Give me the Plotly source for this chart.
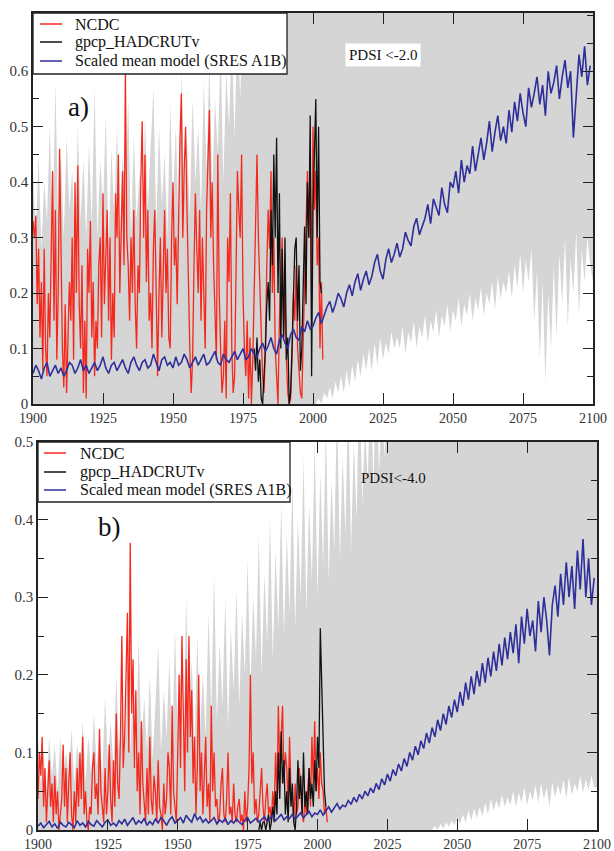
import plotly.graph_objects as go

# ---------------- data: panel a (PDSI < -2.0) ----------------
model_start = 1900  # annual values
model_a = [
    0.055, 0.07, 0.06, 0.045, 0.065, 0.075, 0.05, 0.06, 0.07, 0.055,
    0.065, 0.05, 0.06, 0.075, 0.07, 0.055, 0.065, 0.08, 0.06, 0.07,
    0.055, 0.065, 0.075, 0.06, 0.07, 0.085, 0.065, 0.055, 0.07, 0.075,
    0.06, 0.07, 0.08, 0.065, 0.055, 0.075, 0.085, 0.07, 0.06, 0.075,
    0.08, 0.065, 0.07, 0.09, 0.075, 0.06, 0.08, 0.085, 0.07, 0.075,
    0.065, 0.085, 0.07, 0.075, 0.09, 0.08, 0.065, 0.075, 0.085, 0.07,
    0.08, 0.09, 0.07, 0.075, 0.085, 0.095, 0.075, 0.07, 0.09, 0.08,
    0.075, 0.085, 0.095, 0.08, 0.09, 0.1, 0.08, 0.085, 0.1, 0.09,
    0.085, 0.1, 0.11, 0.095, 0.105, 0.12, 0.1, 0.09, 0.115, 0.125,
    0.11, 0.1, 0.125, 0.135, 0.12, 0.115, 0.14, 0.13, 0.15, 0.135,
    0.14, 0.155, 0.165, 0.145, 0.16, 0.175, 0.185, 0.165, 0.18, 0.2,
    0.19, 0.175, 0.2, 0.215, 0.195, 0.22, 0.235, 0.205, 0.225, 0.24,
    0.215, 0.23, 0.255, 0.27, 0.24, 0.225, 0.26, 0.28, 0.255, 0.27,
    0.29, 0.265, 0.28, 0.31, 0.295, 0.285, 0.32, 0.335, 0.305, 0.32,
    0.335, 0.36, 0.325, 0.37, 0.355, 0.34, 0.39, 0.36, 0.345, 0.4,
    0.39, 0.42, 0.38, 0.44, 0.4, 0.43, 0.415, 0.465, 0.42, 0.45,
    0.48, 0.44, 0.47, 0.51, 0.455, 0.49, 0.52, 0.475, 0.5, 0.47,
    0.53, 0.49, 0.545, 0.51, 0.56, 0.525, 0.5, 0.57, 0.535, 0.56,
    0.59, 0.54, 0.575, 0.52, 0.6, 0.56, 0.58, 0.61, 0.55, 0.59,
    0.62, 0.57, 0.6, 0.48, 0.55, 0.63, 0.59, 0.645, 0.575, 0.61,
]

ncdc_start = 1900.0  # half-year values
ncdc_a = [
    0.33, 0.30, 0.34, 0.18, 0.28, 0.12, 0.22, 0.06, 0.28, 0.10,
    0.05, 0.20, 0.12, 0.30, 0.42, 0.15, 0.35, 0.08, 0.20, 0.46,
    0.25, 0.10, 0.03, 0.18, 0.02, 0.12, 0.22, 0.15, 0.30, 0.08,
    0.40, 0.20, 0.43, 0.18, 0.10, 0.25, 0.02, 0.15, 0.01, 0.28,
    0.20, 0.33, 0.12, 0.22, 0.05, 0.15, 0.10, 0.25, 0.30, 0.12,
    0.38, 0.18, 0.25, 0.35, 0.15, 0.30, 0.08, 0.20, 0.12, 0.38,
    0.30, 0.45, 0.20, 0.35, 0.42, 0.25, 0.60, 0.30, 0.25, 0.15,
    0.30, 0.20, 0.35, 0.18, 0.10, 0.25, 0.20, 0.40, 0.51, 0.30,
    0.45, 0.22, 0.35, 0.15, 0.20, 0.10, 0.28, 0.35, 0.15, 0.05,
    0.20, 0.30, 0.12, 0.25, 0.35, 0.20, 0.28, 0.12, 0.10, 0.30,
    0.40, 0.25, 0.30, 0.18, 0.38, 0.48, 0.56, 0.30, 0.42, 0.50,
    0.35, 0.20, 0.10, 0.02, 0.08, 0.25, 0.38, 0.28, 0.20, 0.35,
    0.15, 0.30, 0.22, 0.10, 0.35, 0.45, 0.53, 0.30, 0.40, 0.25,
    0.15, 0.08, 0.45, 0.20, 0.10, 0.02, 0.05, 0.15, 0.01, 0.30,
    0.22, 0.38, 0.10, 0.02, 0.05, 0.30, 0.42, 0.35, 0.30, 0.45,
    0.20, 0.10, 0.05, 0.15, 0.01, 0.12, 0.00, 0.08, 0.20, 0.35,
    0.45, 0.30, 0.20, 0.10, 0.05, 0.02, 0.10, 0.25, 0.35, 0.28,
    0.42, 0.20, 0.30, 0.10, 0.05, 0.00, 0.15, 0.25, 0.30, 0.12,
    0.20, 0.08, 0.02, 0.00, 0.01, 0.08, 0.20, 0.15, 0.25, 0.10,
    0.05, 0.02, 0.01, 0.12, 0.25, 0.35, 0.42, 0.30, 0.45, 0.20,
    0.50, 0.35, 0.42, 0.25, 0.30, 0.10, 0.22, 0.08,
]

gpcp_start = 1979.0  # half-year values
gpcp_a = [
    0.10, 0.06, 0.12, 0.04, 0.08, 0.01, 0.00, 0.04, 0.10, 0.18,
    0.22, 0.15, 0.35, 0.25, 0.45, 0.30, 0.48, 0.20, 0.38, 0.10,
    0.28, 0.12, 0.30, 0.08, 0.12, 0.00, 0.02, 0.10, 0.22, 0.28,
    0.30, 0.15, 0.25, 0.06, 0.10, 0.20, 0.32, 0.18, 0.40, 0.30,
    0.52, 0.05, 0.35, 0.45, 0.55, 0.30, 0.50, 0.22, 0.20,
]

# model-ensemble spread (grey): upper edge and lower edge
gray_a_top_years = list(range(1900, 1981)) + [2100]
gray_a_top = [
    0.42, 0.3, 0.45, 0.28, 0.4, 0.33, 0.5, 0.3, 0.58, 0.32,
    0.45, 0.3, 0.48, 0.35, 0.42, 0.28, 0.5, 0.33, 0.44, 0.3,
    0.47, 0.32, 0.57, 0.3, 0.44, 0.35, 0.52, 0.28, 0.46, 0.34,
    0.5, 0.3, 0.45, 0.36, 0.55, 0.3, 0.48, 0.33, 0.42, 0.3,
    0.52, 0.35, 0.46, 0.57, 0.32, 0.5, 0.36, 0.45, 0.3, 0.54,
    0.36, 0.5, 0.32, 0.6, 0.38, 0.48, 0.34, 0.55, 0.4, 0.5,
    0.35, 0.58, 0.42, 0.62, 0.38, 0.55, 0.45, 0.64, 0.4, 0.6,
    0.5, 0.66, 0.48, 0.7, 0.55, 0.72, 0.6, 0.75, 0.65, 0.8,
    0.8, 0.8,
]
gray_a_low_years = [1900] + list(range(2000, 2101))
gray_a_low = [
    0.0,
    0.0, 0.0, 0.01, 0.0, 0.02, 0.01, 0.03, 0.01, 0.04, 0.02,
    0.05, 0.02, 0.06, 0.03, 0.07, 0.04, 0.08, 0.05, 0.09, 0.06,
    0.1, 0.06, 0.11, 0.07, 0.12, 0.08, 0.11, 0.09, 0.13, 0.1,
    0.12, 0.1, 0.14, 0.09, 0.13, 0.11, 0.15, 0.1, 0.14, 0.12,
    0.16, 0.11, 0.15, 0.13, 0.17, 0.12, 0.16, 0.14, 0.18, 0.13,
    0.17, 0.15, 0.19, 0.14, 0.18, 0.16, 0.2, 0.15, 0.19, 0.17,
    0.21, 0.16, 0.2, 0.18, 0.22, 0.17, 0.23, 0.19, 0.22, 0.2,
    0.24, 0.19, 0.25, 0.21, 0.27, 0.2, 0.26, 0.22, 0.28, 0.15,
    0.24, 0.08, 0.22, 0.04, 0.2, 0.1, 0.25, 0.12, 0.27, 0.18,
    0.3, 0.14, 0.26, 0.2, 0.31, 0.16, 0.28, 0.22, 0.3, 0.25,
    0.22,
]

# ---------------- data: panel b (PDSI < -4.0) ----------------
model_b = [
    0.005, 0.009, 0.003, 0.007, 0.011, 0.004, 0.008, 0.002, 0.01, 0.006,
    0.004, 0.01, 0.007, 0.003, 0.012, 0.006, 0.009, 0.004, 0.011, 0.007,
    0.005, 0.012, 0.008, 0.004, 0.01, 0.013, 0.006, 0.009, 0.005, 0.012,
    0.008, 0.014, 0.006, 0.011, 0.016, 0.007, 0.012, 0.009, 0.015, 0.006,
    0.011, 0.007, 0.014, 0.009, 0.016, 0.012, 0.006, 0.013, 0.017, 0.009,
    0.012, 0.016, 0.009, 0.019, 0.014, 0.01, 0.021, 0.013, 0.017, 0.01,
    0.014, 0.009, 0.012, 0.016, 0.008, 0.013, 0.01, 0.015, 0.007, 0.012,
    0.009, 0.014, 0.01, 0.007, 0.013, 0.016, 0.009, 0.012, 0.015, 0.01,
    0.013, 0.017, 0.011, 0.015, 0.019, 0.012, 0.016, 0.02, 0.013, 0.017,
    0.015, 0.02, 0.014, 0.018, 0.022, 0.016, 0.02, 0.024, 0.017, 0.022,
    0.02, 0.026, 0.019, 0.025, 0.03, 0.023, 0.028, 0.034, 0.027, 0.032,
    0.03, 0.038, 0.033, 0.042, 0.036, 0.046, 0.04, 0.05, 0.044, 0.054,
    0.048, 0.06, 0.052, 0.066, 0.058, 0.072, 0.063, 0.078, 0.07, 0.085,
    0.076, 0.092, 0.082, 0.1, 0.09, 0.108, 0.097, 0.115, 0.105, 0.125,
    0.112, 0.132, 0.12, 0.142, 0.128, 0.15, 0.136, 0.16, 0.145, 0.168,
    0.152, 0.178, 0.16, 0.19, 0.168, 0.198, 0.175, 0.205, 0.185, 0.215,
    0.19, 0.222, 0.198, 0.23, 0.205, 0.24, 0.212, 0.248, 0.22, 0.255,
    0.228, 0.265, 0.215, 0.275, 0.24, 0.285, 0.25, 0.27, 0.23, 0.295,
    0.255, 0.3, 0.27, 0.225, 0.29, 0.315, 0.275, 0.33, 0.29, 0.345,
    0.3, 0.34, 0.285, 0.36, 0.31, 0.375, 0.3, 0.35, 0.29, 0.325,
]

ncdc_b = [
    0.04, 0.10, 0.07, 0.12, 0.03, 0.08, 0.01, 0.05, 0.09, 0.03,
    0.06, 0.01, 0.07, 0.02, 0.05, 0.00, 0.02, 0.04, 0.11, 0.03,
    0.08, 0.01, 0.06, 0.10, 0.02, 0.00, 0.05, 0.01, 0.08, 0.03,
    0.10, 0.04, 0.12, 0.02, 0.05, 0.01, 0.00, 0.03, 0.02, 0.08,
    0.10, 0.04, 0.06, 0.02, 0.13, 0.05, 0.03, 0.01, 0.08, 0.02,
    0.05, 0.11, 0.04, 0.01, 0.09, 0.03, 0.15, 0.06, 0.04, 0.12,
    0.25, 0.08, 0.12, 0.20, 0.28, 0.10, 0.37, 0.15, 0.22, 0.08,
    0.18, 0.05, 0.10, 0.02, 0.14, 0.06, 0.03, 0.01, 0.08, 0.02,
    0.12, 0.04, 0.02, 0.07, 0.05, 0.01, 0.09, 0.03, 0.02, 0.00,
    0.06, 0.02, 0.04, 0.10, 0.08, 0.02, 0.16, 0.05, 0.03, 0.01,
    0.10, 0.20, 0.08, 0.25, 0.15, 0.05, 0.22, 0.10, 0.25, 0.12,
    0.18, 0.06, 0.12, 0.02, 0.08, 0.20, 0.05, 0.10, 0.02, 0.08,
    0.12, 0.03, 0.06, 0.01, 0.16, 0.05, 0.10, 0.03, 0.04, 0.01,
    0.02, 0.06, 0.08, 0.02, 0.01, 0.04, 0.10, 0.02, 0.03, 0.01,
    0.06, 0.02, 0.01, 0.03, 0.04, 0.01, 0.02, 0.00, 0.05, 0.01,
    0.03, 0.08, 0.20, 0.06, 0.10, 0.02, 0.04, 0.01, 0.02, 0.05,
    0.08, 0.03, 0.01, 0.04, 0.06, 0.02, 0.03, 0.01, 0.05, 0.02,
    0.10, 0.04, 0.16, 0.08, 0.12, 0.16, 0.06, 0.10, 0.08, 0.03,
    0.12, 0.05, 0.04, 0.01, 0.06, 0.02, 0.03, 0.08, 0.05, 0.02,
    0.01, 0.04, 0.02, 0.06, 0.08, 0.03, 0.12, 0.06, 0.14, 0.05,
    0.08, 0.04, 0.10, 0.06, 0.05, 0.02, 0.03, 0.01,
]

gpcp_b = [
    0.00, 0.01, 0.00, 0.01, 0.01, 0.00, 0.01, 0.02, 0.00, 0.01,
    0.03, 0.01, 0.05, 0.02, 0.10, 0.04, 0.127, 0.06, 0.09, 0.02,
    0.05, 0.01, 0.08, 0.03, 0.06, 0.01, 0.00, 0.03, 0.09, 0.04,
    0.07, 0.02, 0.10, 0.03, 0.05, 0.02, 0.08, 0.04, 0.06, 0.03,
    0.09, 0.05, 0.12, 0.08, 0.26, 0.18, 0.14, 0.05, 0.03,
]

gray_b_top_years = list(range(1900, 2031)) + [2100]
gray_b_top = [
    0.12, 0.06, 0.1, 0.05, 0.12, 0.07, 0.11, 0.05, 0.12, 0.06,
    0.1, 0.07, 0.13, 0.06, 0.11, 0.08, 0.14, 0.06, 0.12, 0.07,
    0.15, 0.08, 0.13, 0.07, 0.17, 0.09, 0.14, 0.08, 0.2, 0.1,
    0.16, 0.09, 0.22, 0.1, 0.18, 0.08, 0.25, 0.11, 0.17, 0.1,
    0.2, 0.09, 0.16, 0.24, 0.1, 0.18, 0.12, 0.22, 0.1, 0.26,
    0.12, 0.2, 0.1, 0.3, 0.14, 0.22, 0.11, 0.25, 0.13, 0.2,
    0.12, 0.28, 0.15, 0.33, 0.14, 0.24, 0.16, 0.3, 0.13, 0.26,
    0.18, 0.31, 0.16, 0.28, 0.2, 0.35, 0.18, 0.3, 0.22, 0.38,
    0.2, 0.33, 0.24, 0.4, 0.22, 0.36, 0.26, 0.42, 0.25, 0.38,
    0.28, 0.45, 0.26, 0.4, 0.3, 0.48, 0.28, 0.42, 0.32, 0.5,
    0.3, 0.46, 0.34, 0.52, 0.32, 0.45, 0.36, 0.55, 0.35, 0.48,
    0.38, 0.56, 0.36, 0.5, 0.4, 0.6, 0.42, 0.52, 0.45, 0.6,
    0.44, 0.6, 0.46, 0.55, 0.48, 0.6, 0.5, 0.6, 0.52, 0.6,
    0.6, 0.6,
]
gray_b_low_years = [1900] + list(range(2040, 2101))
gray_b_low = [
    0.0,
    0.0, 0.0, 0.005, 0.0, 0.008, 0.002, 0.01, 0.004, 0.012, 0.006,
    0.015, 0.008, 0.02, 0.01, 0.025, 0.012, 0.028, 0.015, 0.03, 0.018,
    0.035, 0.02, 0.04, 0.025, 0.038, 0.028, 0.045, 0.03, 0.042, 0.032,
    0.05, 0.03, 0.048, 0.035, 0.055, 0.032, 0.05, 0.038, 0.058, 0.035,
    0.06, 0.04, 0.055, 0.03, 0.062, 0.042, 0.058, 0.045, 0.065, 0.04,
    0.068, 0.045, 0.06, 0.05, 0.07, 0.048, 0.065, 0.052, 0.07, 0.055,
    0.055,
]

legend_names = ["NCDC", "gpcp_HADCRUTv", "Scaled mean model (SRES A1B)"]
panel_labels = ["a)", "b)"]
pdsi_labels = ["PDSI <-2.0", "PDSI<-4.0"]
x_ticks = [1900, 1925, 1950, 1975, 2000, 2025, 2050, 2075, 2100]

# ---------------- styles ----------------
RED = "#f4281c"
BLACK = "#111111"
BLUE = "#2f2f9c"
GREY = "#d5d5d5"
SERIF = "Liberation Serif"
W, H = 614, 851
COLORS = [RED, BLACK, BLUE]


def xs(start, step, n):
    return [start + step * i for i in range(n)]


def px_x(p):
    return p / W


def px_y(p):
    return 1 - p / H


fig = go.Figure()


def add_panel(sfx, top_years, top, low_years, low, ncdc, gpcp, model):
    ax, ay = "x" + sfx, "y" + sfx
    poly_x = list(top_years) + list(reversed(low_years))
    poly_y = list(top) + list(reversed(low))
    fig.add_trace(go.Scatter(x=poly_x, y=poly_y, fill="toself", fillcolor=GREY,
                             line=dict(width=0, color=GREY), mode="lines",
                             hoverinfo="skip", xaxis=ax, yaxis=ay))
    fig.add_trace(go.Scatter(x=xs(ncdc_start, 0.5, len(ncdc)), y=ncdc, mode="lines",
                             line=dict(color=RED, width=1.3), name=legend_names[0],
                             xaxis=ax, yaxis=ay))
    fig.add_trace(go.Scatter(x=xs(gpcp_start, 0.5, len(gpcp)), y=gpcp, mode="lines",
                             line=dict(color=BLACK, width=1.3), name=legend_names[1],
                             xaxis=ax, yaxis=ay))
    fig.add_trace(go.Scatter(x=xs(model_start, 1, len(model)), y=model, mode="lines",
                             line=dict(color=BLUE, width=1.6), name=legend_names[2],
                             xaxis=ax, yaxis=ay))


add_panel("", gray_a_top_years, gray_a_top, gray_a_low_years, gray_a_low,
          ncdc_a, gpcp_a, model_a)
add_panel("2", gray_b_top_years, gray_b_top, gray_b_low_years, gray_b_low,
          ncdc_b, gpcp_b, model_b)

tickfont = dict(family=SERIF, size=14, color="#333333")


def xaxis(dom, anchor):
    return dict(domain=dom, range=[1900, 2100], anchor=anchor, tickvals=x_ticks,
                ticks="inside", ticklen=11, tickwidth=1.3, tickcolor="#222",
                showline=True, linecolor="#222", linewidth=1.5, mirror="allticks",
                showgrid=False, zeroline=False, tickfont=tickfont, automargin=False)


def yaxis(dom, anchor, top, vals):
    return dict(domain=dom, range=[0, top], anchor=anchor, tickvals=vals,
                ticks="inside", ticklen=10, tickwidth=1.3, tickcolor="#222",
                minor=dict(dtick=0.05, tick0=0, ticks="inside", ticklen=6,
                           tickwidth=1.2, tickcolor="#222", showgrid=False),
                showline=True, linecolor="#222", linewidth=1.5, mirror="allticks",
                showgrid=False, zeroline=False, tickfont=dict(tickfont, size=15),
                automargin=False)


# legend boxes drawn as shapes + text (matches the original's compact box)
shapes = []
annotations = []
legend_boxes = [
    # (box x0, x1, y0, y1, sample x0, x1, text x, row ys)
    (33, 287, 13, 74, 40, 62, 73, [24, 42, 61]),
    (38, 290, 442, 502, 44, 66, 78, [453, 472, 490]),
]
for bx0, bx1, by0, by1, sx0, sx1, tx, rows in legend_boxes:
    shapes.append(dict(type="rect", xref="paper", yref="paper",
                       x0=px_x(bx0), x1=px_x(bx1), y0=px_y(by1), y1=px_y(by0),
                       fillcolor="white", line=dict(color="#222", width=1.3),
                       layer="above"))
    for name, col, ry in zip(legend_names, COLORS, rows):
        shapes.append(dict(type="line", xref="paper", yref="paper",
                           x0=px_x(sx0), x1=px_x(sx1), y0=px_y(ry), y1=px_y(ry),
                           line=dict(color=col, width=1.5), layer="above"))
        annotations.append(dict(text=name, x=px_x(tx), y=px_y(ry), xref="paper",
                                yref="paper", xanchor="left", yanchor="middle",
                                showarrow=False,
                                font=dict(family=SERIF, size=16, color="#111")))

annotations += [
    dict(text=panel_labels[0], x=px_x(66), y=px_y(90), xref="paper", yref="paper",
         showarrow=False, font=dict(family=SERIF, size=27, color="#111")),
    dict(text=panel_labels[1], x=px_x(96), y=px_y(527), xref="paper", yref="paper",
         showarrow=False, font=dict(family=SERIF, size=27, color="#111")),
    dict(text=pdsi_labels[0], x=px_x(421), y=px_y(43), xref="paper", yref="paper",
         showarrow=False, bgcolor="white", borderpad=3,
         font=dict(family=SERIF, size=15, color="#111")),
    dict(text=pdsi_labels[1], x=px_x(428), y=px_y(478), xref="paper", yref="paper",
         showarrow=False, font=dict(family=SERIF, size=15, color="#111")),
]

fig.update_layout(
    width=W, height=H, margin=dict(l=0, r=0, t=0, b=0, autoexpand=False),
    paper_bgcolor="white", plot_bgcolor="white", showlegend=False,
    font=dict(family=SERIF, color="#222"),
    xaxis=xaxis([px_x(33), px_x(593)], "y"),
    yaxis=yaxis([1 - 404 / H, 1 - 13 / H], "x", 0.705, [0, 0.1, 0.2, 0.3, 0.4, 0.5, 0.6]),
    xaxis2=xaxis([px_x(38), px_x(597)], "y2"),
    yaxis2=yaxis([1 - 830 / H, 1 - 442 / H], "x2", 0.5, [0, 0.1, 0.2, 0.3, 0.4, 0.5]),
    shapes=shapes,
    annotations=annotations,
)

fig.write_html(
    "out.html",
    config={"displayModeBar": False},
    post_script="document.body.style.margin='0';document.body.style.overflow='hidden';",
)
